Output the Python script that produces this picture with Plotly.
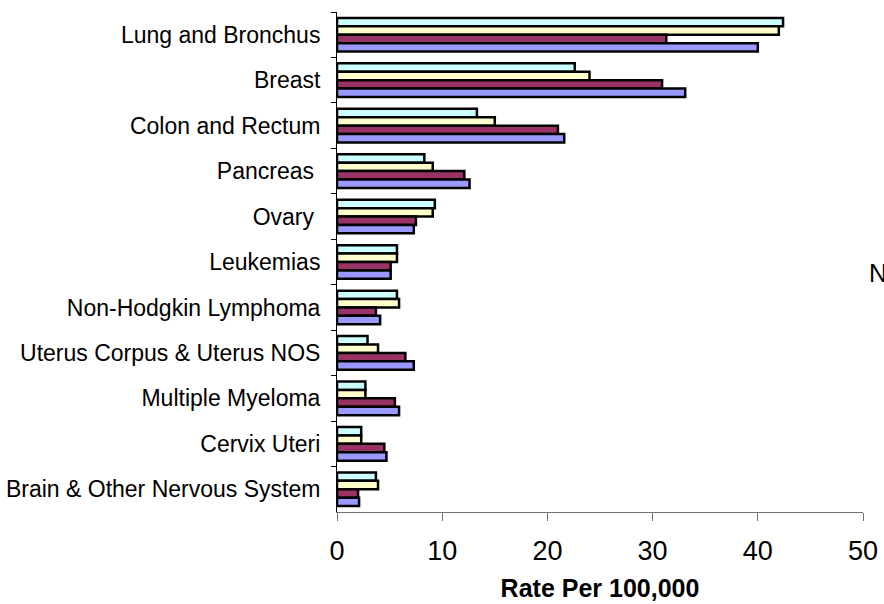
import plotly.graph_objects as go

SITES = [
    "Lung and Bronchus",
    "Breast",
    "Colon and Rectum",
    "Pancreas ",
    "Ovary ",
    "Leukemias",
    "Non-Hodgkin Lymphoma",
    "Uterus Corpus & Uterus NOS",
    "Multiple Myeloma",
    "Cervix Uteri",
    "Brain & Other Nervous System",
]

SERIES_NAMES = ["Series 1", "Series 2", "Series 3", "Series 4"]
SERIES_COLORS = ["#CCFFFF", "#FFFFCC", "#993366", "#9999FF"]

RATES_1 = [42.4, 22.6, 13.3, 8.3, 9.3, 5.7, 5.7, 2.9, 2.7, 2.3, 3.7]
RATES_2 = [42.0, 24.0, 15.0, 9.1, 9.1, 5.7, 5.9, 3.9, 2.7, 2.3, 3.9]
RATES_3 = [31.3, 30.9, 21.0, 12.1, 7.5, 5.1, 3.7, 6.5, 5.5, 4.5, 2.0]
RATES_4 = [40.0, 33.1, 21.6, 12.6, 7.3, 5.1, 4.1, 7.3, 5.9, 4.7, 2.1]

X_TICKS = [0, 10, 20, 30, 40, 50]

FONT = "Liberation Sans, Arial, sans-serif"

fig = go.Figure()
for name, color, rates in zip(SERIES_NAMES, SERIES_COLORS, [RATES_1, RATES_2, RATES_3, RATES_4]):
    fig.add_trace(
        go.Bar(
            name=name,
            y=SITES,
            x=rates,
            orientation="h",
            marker={"color": color, "line": {"color": "black", "width": 2.5}},
            showlegend=False,
        )
    )

fig.update_layout(
    width=884,
    height=604,
    barmode="group",
    bargap=0.26,
    bargroupgap=0,
    hovermode=False,
    plot_bgcolor="white",
    paper_bgcolor="white",
    margin={"l": 337, "r": 21, "t": 12, "b": 92},
    font={"family": FONT, "color": "black"},
    xaxis={
        "range": [0, 50],
        "tickvals": X_TICKS,
        "ticks": "outside",
        "ticklen": 8,
        "tickcolor": "#707070",
        "showline": True,
        "linecolor": "#707070",
        "linewidth": 1,
        "showgrid": False,
        "zeroline": False,
        "automargin": False,
        "tickfont": {"size": 27},
        "ticklabelstandoff": 7,
        "title": {
            "text": "<b>Rate Per 100,000</b>",
            "font": {"size": 25},
            "standoff": 14,
        },
    },
    yaxis={
        "autorange": "reversed",
        "ticks": "outside",
        "ticklen": 5,
        "tickson": "boundaries",
        "tickcolor": "black",
        "showline": True,
        "linecolor": "black",
        "linewidth": 1,
        "showgrid": False,
        "automargin": False,
        "tickfont": {"size": 23},
        "ticklabelstandoff": 11,
    },
    annotations=[
        {
            # legend text cut off by the right edge in the original
            "text": "N",
            "xref": "paper",
            "yref": "paper",
            "x": 1.008,
            "y": 0.478,
            "xanchor": "left",
            "yanchor": "middle",
            "showarrow": False,
            "font": {"size": 25},
        }
    ],
)

# drop the default 8px body margin so the figure fills the window exactly
fig.write_html(
    "out.html",
    config={"displayModeBar": False},
    post_script="document.body.style.margin='0';",
)
